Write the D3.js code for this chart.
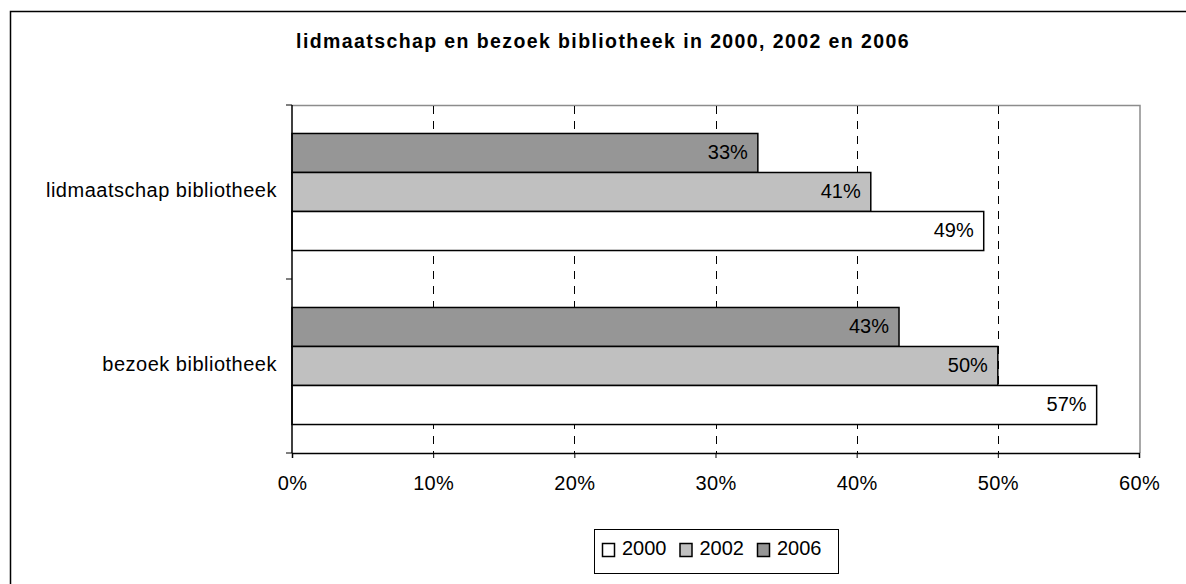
<!DOCTYPE html>
<html>
<head>
<meta charset="utf-8">
<script src="https://cdn.jsdelivr.net/npm/d3@7"></script>
<style>
  body { margin: 0; background: #fff; }
  text { font-family: "Liberation Sans", Arial, sans-serif; fill: #000; }
</style>
</head>
<body>
<svg id="chart" width="1186" height="584"></svg>
<script>
const categories = ["lidmaatschap bibliotheek", "bezoek bibliotheek"]
const years = ["2006", "2002", "2000"]
const legendYears = ["2000", "2002", "2006"]
const values = {
    "2006": [0.33, 0.43],
    "2002": [0.41, 0.50],
    "2000": [0.49, 0.57]
}
const xTicks = [0, 0.1, 0.2, 0.3, 0.4, 0.5, 0.6]
const title = "lidmaatschap en bezoek bibliotheek in 2000, 2002 en 2006"

const colors = { "2000": "#ffffff", "2002": "#c0c0c0", "2006": "#969696" }

const svg = d3.select("#chart")
const plot = { left: 292, right: 1139, top: 105, bottom: 453 }

// outer frame (only top/left visible in the window)
svg.append("rect")
    .attr("x", 10.5).attr("y", 11.5)
    .attr("width", 1300).attr("height", 700)
    .attr("fill", "none").attr("stroke", "#000").attr("stroke-width", 1.5)

svg.append("text")
    .attr("x", 603).attr("y", 48)
    .attr("text-anchor", "middle")
    .style("font-size", "19.5px").style("font-weight", "bold")
    .style("letter-spacing", "1.4px")
    .text(title)

const x = d3.scaleLinear().domain([0, 0.6]).range([plot.left, plot.right])
const y = d3.scaleBand().domain(categories).range([plot.top, plot.bottom])
const ySub = d3.scaleBand().domain(years).range([0, y.bandwidth()])
    .paddingInner(0).paddingOuter(0.73)

// plot frame top/right
svg.append("path")
    .attr("d", `M${plot.left},${plot.top + 0.5}H${plot.right + 1}V${plot.bottom}`)
    .attr("fill", "none").attr("stroke", "#8c8c8c").attr("stroke-width", 1.5)

// dashed grid
svg.append("g").selectAll("line")
    .data(xTicks.slice(1, -1))
    .join("line")
    .attr("x1", d => Math.round(x(d)) + 0.5).attr("x2", d => Math.round(x(d)) + 0.5)
    .attr("y1", plot.top + 1).attr("y2", plot.bottom)
    .attr("stroke", "#000").attr("stroke-width", 1)
    .attr("stroke-dasharray", "8,7")

// bars
const groups = svg.append("g").selectAll("g")
    .data(categories)
    .join("g")
    .attr("transform", d => `translate(0,${y(d)})`)

groups.selectAll("rect")
    .data((d, i) => years.map(yr => ({ yr, v: values[yr][i] })))
    .join("rect")
    .attr("x", x(0))
    .attr("y", d => ySub(d.yr))
    .attr("width", d => x(d.v) - x(0))
    .attr("height", ySub.bandwidth())
    .attr("fill", d => colors[d.yr])
    .attr("stroke", "#000").attr("stroke-width", 1.5)

groups.selectAll("text")
    .data((d, i) => years.map(yr => ({ yr, v: values[yr][i] })))
    .join("text")
    .attr("x", d => x(d.v) - 10)
    .attr("y", d => ySub(d.yr) + ySub.bandwidth() / 2 + 6)
    .attr("text-anchor", "end")
    .style("font-size", "20px")
    .text(d => d3.format(".0%")(d.v))

// x axis
const xAxis = d3.axisBottom(x)
    .tickValues(xTicks)
    .tickFormat(d3.format(".0%"))
    .tickSize(5)
    .tickPadding(18)
svg.append("g")
    .attr("transform", `translate(0,${plot.bottom})`)
    .call(xAxis)
    .call(g => g.select(".domain").attr("stroke-width", 1.5))
    .call(g => g.selectAll("text").style("font-size", "20px").style("letter-spacing", "0.3px")
        .attr("font-family", null))

// y axis: line with ticks at band edges
const yEdges = categories.map(c => y(c)).concat([plot.bottom])
svg.append("line")
    .attr("x1", plot.left).attr("x2", plot.left)
    .attr("y1", plot.top).attr("y2", plot.bottom)
    .attr("stroke", "#000").attr("stroke-width", 1.5)
svg.append("g").selectAll("line")
    .data(yEdges)
    .join("line")
    .attr("x1", plot.left - 6).attr("x2", plot.left)
    .attr("y1", d => d).attr("y2", d => d)
    .attr("stroke", "#000").attr("stroke-width", 1)
svg.append("g").selectAll("text")
    .data(categories)
    .join("text")
    .attr("x", 277)
    .attr("y", d => y(d) + y.bandwidth() / 2 + 5)
    .attr("text-anchor", "end")
    .style("font-size", "20px").style("letter-spacing", "0.5px")
    .text(d => d)

// legend
const legend = svg.append("g")
legend.append("rect")
    .attr("x", 594.5).attr("y", 529.5)
    .attr("width", 244).attr("height", 44)
    .attr("fill", "#fff").attr("stroke", "#000").attr("stroke-width", 1)
const item = legend.selectAll("g.item")
    .data(legendYears)
    .join("g")
    .attr("class", "item")
    .attr("transform", (d, i) => `translate(${602 + i * 77.5},0)`)
item.append("rect")
    .attr("x", 0.5).attr("y", 543.5)
    .attr("width", 12).attr("height", 13)
    .attr("fill", d => colors[d]).attr("stroke", "#000").attr("stroke-width", 1.5)
item.append("text")
    .attr("x", 20).attr("y", 555)
    .style("font-size", "20px")
    .text(d => d)
</script>
</body>
</html>
